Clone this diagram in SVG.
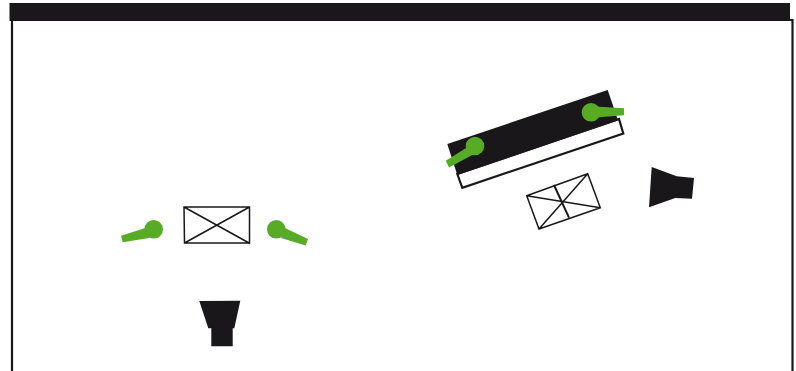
<svg xmlns="http://www.w3.org/2000/svg" width="796" height="371" viewBox="0 0 796 371">
<style>
.k{fill:#1a171b}
.g{fill:#58ab27}
.o{fill:none;stroke:#1a171b;stroke-width:2.200}
.t{fill:none;stroke:#1a171b;stroke-width:1.500}
</style>
<rect width="796" height="371" fill="#fff"/>
<g id="stage">
<path class="o" d="M12 20V371M12 20H792.500V371"/>
<rect class="k" x="9.500" y="3" width="780.500" height="18"/>
</g>
<g id="table-right">
<polygon points="457.300,174 462.300,187.800 623.300,133.500 619,119" fill="#fff" stroke="#1a171b" stroke-width="2.200"/>
<polygon class="k" points="447.300,144 607.700,90 618,120.500 457.300,175"/>
</g>
<g id="softbox-left">
<path class="t" d="M184 207H249.500V243H184.500ZM184 207L250 243.500M249.500 207L184.500 243"/>
</g>
<g id="softbox-right">
<path class="t" d="M526.700 195.700L587.700 173.700L600.300 207.700L539 229ZM526.700 195.700L600.300 207.700M587.700 173.700L539 229"/>
<path fill="none" stroke="#1a171b" stroke-width="2" d="M554 185L569 217.700"/>
</g>
<g id="mic-left">
<circle class="g" cx="153.700" cy="229.300" r="9.300"/>
<polygon class="g" points="121,235.700 146,227.700 149.300,238 122.700,242.300"/>
</g>
<g id="mic-centre">
<circle class="g" cx="276.300" cy="229.300" r="9.300"/>
<polygon class="g" points="308,239 285,228 281,238 305.700,245.500"/>
</g>
<g id="mic-table-left">
<circle class="g" cx="475" cy="146" r="9.300"/>
<polygon class="g" points="445.800,160.800 469.300,146 473.300,154.500 449,167.500"/>
</g>
<g id="mic-table-right">
<circle class="g" cx="591" cy="112.300" r="9.300"/>
<polygon class="g" points="624,108.300 596,106.500 596,117.500 624,115.200"/>
</g>
<g id="camera-bottom">
<polygon class="k" points="199.300,301 240.300,300.700 234.300,328.300 232.700,328.300 232.700,346.300 211.300,346.300 211.300,328.300 208.300,328.300"/>
</g>
<g id="camera-right">
<polygon class="k" points="651.700,167 676.700,176.300 694,178 692,198.700 675.300,198 649,207.300"/>
</g>
<g id="connectors"></g>
</svg>
